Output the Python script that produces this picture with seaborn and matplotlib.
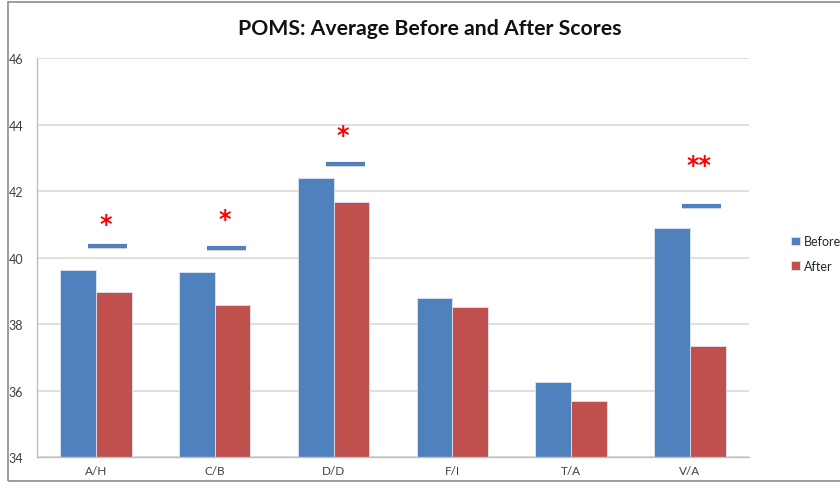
import pandas as pd
import numpy as np
import matplotlib
matplotlib.use("Agg")
import matplotlib.pyplot as plt
import matplotlib.transforms as mtransforms
import seaborn as sns
from matplotlib.patches import Rectangle

# data
categories = ["A/H", "C/B", "D/D", "F/I", "T/A", "V/A"]
before = [39.62, 39.56, 42.39, 38.77, 36.27, 40.89]
after = [38.96, 38.57, 41.66, 38.51, 35.69, 37.35]

# significance markers (bar line level, star level, label)
sig_cats = ["A/H", "C/B", "D/D", "V/A"]
sig_line = [40.35, 40.29, 42.82, 41.55]
sig_star = [41.16, 41.31, 43.83, 42.93]
sig_text = ["*", "*", "*", "**"]

df = pd.DataFrame({
    "Category": categories * 2,
    "Score": before + after,
    "Time": ["Before"] * len(categories) + ["After"] * len(categories),
})

sns.set_style("white")
plt.rcParams["font.family"] = ["Lato", "DejaVu Sans"]

fig = plt.figure(figsize=(8.4, 4.89), dpi=100)
ax = fig.add_axes([0.0436, 0.0634, 0.8484, 0.8159])

palette = {"Before": "#4F81BD", "After": "#C0504D"}
sns.barplot(data=df, x="Category", y="Score", hue="Time", order=categories,
            hue_order=["Before", "After"], palette=palette, width=0.6,
            edgecolor="#dce6f2", linewidth=0.6, ax=ax, saturation=1)

ax.set_ylim(34, 46)
ax.set_xlim(-0.5, len(categories) - 0.5)
ax.set_yticks(np.arange(34, 47, 2))
ax.yaxis.grid(True, color="#d9d9d9", linewidth=1.2)
ax.set_axisbelow(True)
ax.set_xlabel("")
ax.set_ylabel("")
for s in ["top", "right"]:
    ax.spines[s].set_visible(False)
for s in ["left", "bottom"]:
    ax.spines[s].set_color("#bfbfbf")
    ax.spines[s].set_linewidth(1)
ax.tick_params(axis="y", labelsize=9, pad=20, length=0, labelcolor="#404040")
ax.tick_params(axis="x", labelsize=8.5, length=0, pad=6, labelcolor="#404040")
for lbl in ax.get_yticklabels():
    lbl.set_horizontalalignment("left")

# significance lines and stars
star_tr = mtransforms.offset_copy(ax.transData, fig=fig, y=-5, units="dots")
for c, yl, ys, t in zip(sig_cats, sig_line, sig_star, sig_text):
    i = categories.index(c)
    xc = i + 0.1
    ax.plot([xc - 0.165, xc + 0.165], [yl - 0.03, yl - 0.03], color="#a0a0a0",
            linewidth=3, alpha=0.35, solid_capstyle="butt")
    ax.plot([xc - 0.165, xc + 0.165], [yl, yl], color="#4F81BD",
            linewidth=3, solid_capstyle="butt")
    ax.text(xc - 0.02, ys, t, color="#FF0000", fontsize=17, fontweight="bold",
            ha="center", va="center", family="DejaVu Sans", transform=star_tr)

fig.suptitle("POMS: Average Before and After Scores", fontsize=15.3,
             fontweight="bold", x=0.512, y=0.962, color="#111111")

handles, labels = ax.get_legend_handles_labels()
ax.legend(handles, labels, loc="center left", bbox_to_anchor=(1.043, 0.51),
          frameon=False, fontsize=9, handlelength=0.7, handleheight=0.7,
          handletextpad=0.3, labelspacing=1.0)

# outer chart frame
fig.patches.append(Rectangle((0.009, 0.014), 1.2, 0.98, transform=fig.transFigure,
                             fill=False, edgecolor="#8c8c8c", linewidth=1.2))

fig.savefig("out.png", dpi=100)
